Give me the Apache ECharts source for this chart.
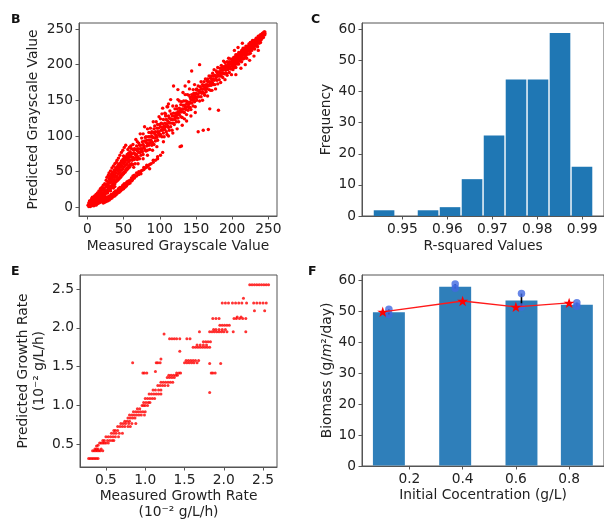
<!DOCTYPE html>
<html><head><meta charset="utf-8">
<script src="https://cdn.jsdelivr.net/npm/echarts@6/dist/echarts.min.js"></script>
<style>html,body{margin:0;padding:0;background:#fff}#c{width:604px;height:522px}</style>
</head><body><div id="c"></div>
<script>
// ---------- Panel B: measured vs predicted grayscale ----------
const bPoints = [
[1,3],[2,1],[2,6],[3,3],[3,9],[4,1],[4,5],[5,3],[5,10],[5,7],[6,2],[6,6],[6,12],[7,4],[7,9],[7,14],[8,3],[8,7],[8,11],[9,6],[9,13],[9,2],[10,8],[10,4],[10,16],[11,10],[11,6],[11,13],[12,3],[12,9],[12,18],[12,12],[13,7],[13,15],[13,11],[14,5],[14,10],[14,20],[14,14],[15,8],[15,17],[15,12],[16,6],[16,11],[16,23],[16,15],[17,9],[17,19],[17,14],[18,7],[18,12],[18,26],[18,17],[19,10],[19,21],[19,15],[20,8],[20,13],[20,28],[20,18],[21,11],[21,24],[21,16],[22,9],[22,14],[22,31],[22,20],[23,12],[23,26],[23,17],[24,10],[24,15],[24,33],[24,22],[25,13],[25,28],[25,19],
[3.5,6],[6.5,9],[9.5,10],[11.5,15],[13.5,18],[15.5,20],[17.5,22],[19.5,24],[21.5,27],[23.5,24],
[26,23],[26,31],[26,38],[27,24],[27,29],[27,42],[28,22],[28,33],[28,36],[29,27],[29,31],[29,45],[30,25],[30,36],[30,40],[30,48],[31,28],[31,34],[31,43],[32,26],[32,38],[32,41],[32,51],[33,30],[33,35],[33,46],[34,29],[34,40],[34,44],[34,55],[35,32],[35,37],[35,49],[36,31],[36,43],[36,47],[36,58],[37,35],[37,39],[37,52],[38,33],[38,45],[38,50],[38,61],[39,37],[39,42],[39,55],[40,36],[40,48],[40,53],[40,63],[41,39],[41,44],[41,57],[41,66],[42,38],[42,51],[42,55],[43,41],[43,47],[43,60],[43,69],[44,40],[44,53],[44,58],[45,44],[45,49],[45,62],[45,73],[46,42],[46,56],[46,60],[47,46],[47,52],[47,65],[47,77],[48,45],[48,58],[48,63],[49,48],[49,54],[49,67],[49,80],[50,47],[50,61],[50,65],[50,72],[51,50],[51,57],[51,69],[51,84],[52,49],[52,63],[52,67],[53,53],[53,59],[53,71],[53,87],[54,52],[54,66],[54,70],[55,55],[55,61],[55,74],[56,54],[56,68],[56,72],[56,81],[57,58],[57,64],[57,76],[58,56],[58,70],[58,74],[58,84],[59,60],[59,66],[59,78],[60,59],[60,72],[60,76],[60,86],
[22,6],[22,10],[23,8],[24,7],[24,11],[25,9],[26,8],[26,12],[27,10],[27,14],[28,9],[29,11],[29,15],[30,10],[30,14],[31,13],[31,16],[32,12],[33,14],[33,18],[34,13],[34,17],[35,16],[36,15],[36,19],[37,17],[37,21],[38,16],[39,19],[39,23],[40,18],[40,22],[41,21],[42,20],[42,24],[43,22],[43,26],[44,21],[45,24],[45,28],[46,23],[46,27],[47,26],[48,25],[48,29],[49,27],[49,31],[50,26],[51,29],[51,33],[52,28],[52,32],[53,31],[54,30],[54,34],[55,32],[55,36],[57,33],[57,37],[58,35],[59,34],[59,38],[61,37],[61,41],[62,38],[63,40],[63,44],[65,41],[65,45],[66,43],[68,44],[68,48],[70,47],[71,46],[71,50],[73,49],[74,51],[74,47],[76,52],[78,53],[78,56],[80,55],[82,56],[82,59],[84,58],[86,60],[86,54],[88,61],[91,63],[91,66],[94,66],[97,68],[97,71],[101,73],[104,77],
[20,12],[24,16],[28,20],[32,23],[36,27],[38,29],
[61,61],[61,70],[61,82],[62,66],[62,75],[63,60],[63,70],[63,88],[64,69],[64,80],[65,67],[65,76],[65,82],[66,61],[66,74],[67,70],[67,81],[67,95],[68,74],[68,86],[69,67],[69,79],[69,92],[70,71],[70,82],[71,78],[71,77],[71,90],[72,68],[72,87],[73,77],[73,82],[73,103],[74,73],[74,87],[75,80],[75,82],[75,97],[76,78],[76,92],[77,74],[77,88],[77,103],[78,84],[78,86],[79,82],[79,93],[79,113],[80,80],[80,98],[81,79],[81,91],[81,99],[82,86],[82,94],[83,80],[83,89],[83,110],[84,89],[84,99],[85,87],[85,94],[85,105],[86,81],[86,99],[87,90],[87,94],[87,111],[88,94],[88,104],[89,87],[89,100],[89,106],[90,91],[90,98],[91,98],[91,105],[91,120],[92,88],[92,110],[93,97],[93,103],[93,114],[94,93],[94,106],[95,100],[95,101],[95,120],[96,98],[96,111],[97,94],[97,106],[97,116],[98,104],[98,111],[99,102],[99,106],[99,127],[100,100],[100,116],
[64,56],[70,61],[77,68],[83,73],[90,80],[96,85],
[101,102],[101,113],[101,124],[102,108],[102,118],[103,99],[103,112],[103,131],[104,108],[104,117],[105,104],[105,123],[105,112],[106,114],[106,99],[107,109],[107,118],[107,132],[108,113],[108,128],[109,106],[109,123],[109,117],[110,117],[110,102],[111,114],[111,121],[111,141],[112,112],[112,128],[113,119],[113,125],[113,108],[114,118],[114,135],[115,113],[115,124],[115,151],[116,123],[116,131],[117,118],[117,128],[117,108],[118,123],[118,142],[119,118],[119,132],[119,170],[120,128],[120,116],[121,123],[121,138],[121,127],[122,126],[122,132],[123,120],[123,142],[123,130],[124,129],[124,138],[125,125],[125,151],[125,134],[126,132],[126,120],[127,130],[127,139],[127,149],[128,136],[128,85],[129,127],[129,144],[129,134],[130,134],[130,86],[130,148],[131,138],[131,126],[132,134],[132,143],[132,161],[133,138],[133,149],[134,133],[134,143],[134,124],[135,141],[135,158],[136,137],[136,149],[136,140],[137,145],[137,130],[138,141],[138,148],[138,158],[139,146],[139,136],[140,144],[140,157],[140,140],[141,147],[141,166],[142,140],[142,154],[142,147],[143,151],[143,137],[144,146],[144,191],[144,158],[145,150],[145,155],[146,142],[146,165],[146,153],[147,151],[147,160],[148,148],[148,157],[148,172],[149,155],[149,141],[150,160],[150,153],[150,165],
[105,92],[112,100],[118,104],[124,110],[131,115],[137,121],[143,128],[149,133],
[104,139],[108,131],[112,145],[125,165],[135,170],[140,176],[110,141],
[151,159],[151,150],[151,166],[152,155],[152,164],[153,159],[153,106],[153,170],[154,155],[154,164],[155,162],[155,200],[155,149],[156,161],[156,169],[157,155],[157,166],[157,176],[158,166],[158,160],[159,162],[159,172],[159,150],[160,166],[160,108],[160,170],[161,160],[161,176],[162,167],[162,157],[162,171],[163,165],[163,180],[164,172],[164,162],[164,168],[165,166],[165,177],[166,172],[166,156],[166,180],[167,170],[167,109],[167,176],[168,165],[168,184],[169,176],[169,138],[169,171],[170,174],[170,181],[170,164],[171,171],[171,184],[172,177],[172,164],[172,180],[173,174],[173,188],[174,180],[174,172],[174,184],[175,178],[175,193],[176,185],[176,172],[177,179],[177,184],[177,166],[178,182],[178,191],[179,178],[179,189],[180,186],[180,173],[180,196],[181,184],[181,136],[182,190],[182,179],[183,184],[183,195],[183,188],[184,188],[184,175],[185,192],[185,184],[185,199],[186,188],[186,196],[187,192],[187,182],[188,188],[188,197],[188,205],[189,195],[189,187],[190,194],[190,203],[190,179],[191,192],[191,199],[192,197],[192,188],[193,196],[193,204],[193,185],[194,201],[194,193],[195,198],[195,209],[196,195],[196,204],[196,189],[197,201],[197,197],[198,194],[198,208],[199,201],[199,186],[199,204],[200,198],[200,207],
[201,202],[201,196],[201,207],[201,193],[202,206],[202,200],[202,210],[203,203],[203,196],[203,208],[203,205],[204,207],[204,200],[204,211],[205,204],[205,206],[205,196],[205,214],[206,211],[206,203],[206,208],[207,205],[207,214],[207,201],[207,210],[208,209],[208,212],[208,203],[209,209],[209,217],[209,201],[209,212],[210,215],[210,207],[210,210],[211,213],[211,205],[211,217],[211,210],[212,216],[212,208],[212,213],[213,211],[213,220],[213,204],[213,216],[214,215],[214,219],[214,209],[215,214],[215,223],[215,208],[215,217],[216,220],[216,213],[216,217],[217,217],[217,223],[217,209],[217,220],[218,223],[218,213],[218,217],[219,220],[219,226],[219,213],[219,223],[220,221],[220,216],[220,209],[221,219],[221,226],[221,223],[221,215],[222,225],[222,219],[222,222],[223,222],[223,229],[223,215],[223,225],[224,228],[224,219],[224,224],[225,223],[225,228],[225,216],[225,231],[226,227],[226,222],[226,231],[227,226],[227,231],[227,220],[227,229],[228,228],[228,225],[228,234],[229,232],[229,223],[229,228],[229,230],[230,231],[230,225],[230,234],[231,228],[231,234],[231,222],[231,231],[232,231],[232,234],[232,226],[233,231],[233,237],[233,229],[233,234],[234,234],[234,227],[234,237],[235,232],[235,237],[235,234],[235,225],[236,237],[236,231],[236,240],[237,235],[237,237],[237,230],[237,240],[238,237],[238,240],[238,234],[239,236],[239,242],[239,239],[239,231],[240,241],[240,235],[240,239],[241,239],[241,243],[241,237],[241,241],[242,242],[242,239],[242,244],[243,242],[243,238],[243,244],[244,244],[244,242],[244,246],[245,244],[245,242],[245,246],
[205,186],[212,195],[218,200],[224,206],[230,212],[236,220],[208,224],[214,230],[203,220]
];
const bTicks = [0, 50, 100, 150, 200, 250];

// ---------- Panel C: histogram of R-squared ----------
const cBinEdges = [0.94345, 0.94835, 0.95324, 0.95814, 0.96303, 0.96793, 0.97282, 0.97772, 0.98261, 0.98751, 0.99240];
const cCounts = [2, 0, 2, 3, 12, 26, 44, 44, 59, 16];
const cXTicks = [0.95, 0.96, 0.97, 0.98, 0.99];
const cYTicks = [0, 10, 20, 30, 40, 50, 60];

// ---------- Panel E: measured vs predicted growth rate ----------
const ePoints = [
[0.28,0.32],[0.30,0.32],[0.32,0.32],[0.34,0.32],[0.36,0.32],[0.38,0.32],[0.40,0.32],
[0.33,0.42],[0.35,0.42],[0.37,0.42],[0.39,0.42],[0.41,0.42],[0.43,0.42],[0.46,0.42],
[0.36,0.44],[0.38,0.44],[0.40,0.44],[0.44,0.44],[0.38,0.48],[0.40,0.49],
[0.42,0.52],[0.44,0.52],[0.46,0.52],[0.48,0.52],[0.50,0.52],[0.53,0.52],
[0.46,0.55],[0.48,0.55],[0.52,0.55],[0.55,0.55],[0.58,0.55],[0.60,0.55],
[0.50,0.60],[0.53,0.60],[0.56,0.60],[0.59,0.60],[0.62,0.60],[0.66,0.60],
[0.57,0.645],[0.60,0.645],[0.63,0.645],[0.67,0.645],[0.71,0.645],
[0.60,0.68],[0.62,0.68],[0.65,0.68],
[0.65,0.73],[0.68,0.73],[0.71,0.73],[0.74,0.73],[0.78,0.73],[0.81,0.73],
[0.69,0.77],[0.72,0.77],[0.75,0.77],[0.79,0.77],[0.83,0.77],[0.88,0.77],
[0.74,0.80],[0.77,0.80],[0.80,0.80],
[0.78,0.84],[0.81,0.84],[0.84,0.84],[0.87,0.84],
[0.80,0.88],[0.83,0.88],[0.86,0.88],[0.89,0.88],[0.92,0.88],[0.95,0.88],[0.99,0.88],
[0.85,0.92],[0.88,0.92],[0.91,0.92],[0.94,0.92],[0.97,0.92],[1.00,0.92],
[0.90,0.96],[0.93,0.96],
[0.96,1.00],[0.98,1.00],[1.00,1.00],[1.03,1.00],
[0.98,1.04],[1.01,1.04],[1.04,1.04],[1.06,1.04],
[1.00,1.09],[1.03,1.09],[1.06,1.09],[1.09,1.09],[1.12,1.09],
[1.05,1.15],[1.08,1.15],[1.11,1.15],[1.14,1.15],[1.17,1.15],[1.20,1.15],
[1.10,1.20],[1.13,1.20],[1.17,1.20],[1.20,1.20],
[1.16,1.26],[1.19,1.26],[1.22,1.26],[1.25,1.26],[1.29,1.26],
[1.20,1.30],[1.23,1.30],[1.26,1.30],[1.29,1.30],[1.32,1.30],[1.35,1.30],
[1.28,1.36],[1.31,1.36],[1.34,1.36],[1.37,1.36],
[1.30,1.39],[1.33,1.39],[1.36,1.39],[1.39,1.39],[1.41,1.39],
[0.97,1.42],[0.99,1.42],[1.02,1.42],[1.40,1.42],[1.43,1.42],[1.45,1.42],[1.84,1.42],[1.86,1.42],[1.89,1.42],
[1.13,1.44],
[0.84,1.55],[1.14,1.55],[1.16,1.55],[1.19,1.55],[1.50,1.55],[1.53,1.55],[1.56,1.55],[1.59,1.55],[1.62,1.55],[1.66,1.55],[1.82,1.54],[1.96,1.54],
[1.20,1.60],[1.52,1.58],[1.55,1.58],[1.58,1.58],[1.61,1.58],[1.64,1.58],[1.68,1.58],
[1.44,1.70],
[1.61,1.75],[1.64,1.75],[1.67,1.75],[1.70,1.75],[1.73,1.75],[1.76,1.75],[1.79,1.75],[1.82,1.75],
[1.66,1.78],[1.70,1.78],[1.74,1.78],[1.78,1.78],
[1.74,1.82],[1.77,1.82],[1.80,1.82],[1.83,1.82],
[1.31,1.86],[1.34,1.86],[1.37,1.86],[1.40,1.86],[1.44,1.86],[1.53,1.86],[1.57,1.86],
[1.82,1.17],[1.24,1.92],
[1.69,1.95],[1.82,1.95],[1.85,1.95],[1.88,1.95],[1.91,1.95],[1.94,1.95],[1.97,1.95],[2.00,1.95],[2.04,1.95],[2.12,1.95],[2.28,1.95],
[1.87,1.98],[1.90,1.98],[1.94,1.98],[1.98,1.98],[2.02,1.98],
[1.95,2.035],[1.98,2.035],[2.01,2.035],[2.04,2.035],[2.07,2.035],
[1.86,2.12],[1.90,2.12],[1.94,2.12],[2.13,2.12],[2.16,2.12],[2.20,2.12],[2.24,2.12],[2.28,2.12],
[2.17,2.14],[2.22,2.14],
[2.39,2.22],[2.52,2.22],
[1.98,2.32],[2.02,2.32],[2.06,2.32],[2.11,2.32],[2.15,2.32],[2.19,2.32],[2.23,2.32],[2.29,2.32],[2.38,2.32],[2.42,2.32],[2.46,2.32],[2.50,2.32],[2.54,2.32],
[2.25,2.38],
[2.33,2.556],[2.36,2.556],[2.39,2.556],[2.42,2.556],[2.45,2.556],[2.48,2.556],[2.51,2.556],[2.54,2.556],[2.57,2.556]
];
const eTicks = [0.5, 1.0, 1.5, 2.0, 2.5];

// ---------- Panel F: biomass vs initial concentration ----------
const fBarX = [0.123, 0.372, 0.621, 0.829];
const fBarH = [49.7, 57.9, 53.5, 52.1];
const fDots = [[0.123, 50.6], [0.123, 48.9], [0.372, 58.8], [0.372, 57.4], [0.621, 55.7], [0.621, 51.4], [0.829, 52.7], [0.829, 51.6]];
const fErrLow = [48.9, 57.4, 51.4, 51.6];
const fErrHigh = [50.6, 58.8, 55.7, 52.7];
const fStarX = [0.1, 0.4, 0.6, 0.8];
const fStarY = [49.8, 53.3, 51.4, 52.7];
const fXTicks = [0.2, 0.4, 0.6, 0.8];
const fYTicks = [0, 10, 20, 30, 40, 50, 60];

// ---------- chart ----------
const FONT = 'DejaVu Sans';
const TXT = { color: '#222', fontSize: 13.8, fontFamily: FONT };
const AX = '#555';

function mkAxis(gi, min, max, ticks, fmt, name, gap, extra) {
  return Object.assign({
    gridIndex: gi, type: 'value', min: min, max: max,
    axisLine: { show: true, onZero: false, lineStyle: { color: AX, width: 1 } },
    axisTick: { show: true, length: 3.5, lineStyle: { color: AX, width: 1 }, customValues: ticks },
    axisLabel: Object.assign({ margin: 6, customValues: ticks, formatter: fmt }, TXT),
    splitLine: { show: false },
    name: name, nameLocation: 'middle', nameGap: gap,
    nameTextStyle: Object.assign({ lineHeight: 16.5 }, TXT)
  }, extra || {});
}
const f0 = v => String(Math.round(v));
const f1 = v => v.toFixed(1);
const f2 = v => v.toFixed(2);

const grids = [
  { left: 79, top: 23, width: 198, height: 193 },
  { left: 362, top: 23, width: 247, height: 193 },
  { left: 80, top: 275, width: 197, height: 192 },
  { left: 362, top: 275, width: 247, height: 191 }
].map(g => Object.assign({ show: true, borderColor: AX, borderWidth: 1, backgroundColor: 'transparent', containLabel: false }, g));

const superm = '\u207B\u00B2';
const option = {
  animation: false,
  grid: grids,
  xAxis: [
    mkAxis(0, -11.5, 261.8, bTicks, f0, 'Measured Grayscale Value', 22),
    mkAxis(1, 0.94099, 0.99485, cXTicks, f2, 'R-squared Values', 22),
    mkAxis(2, 0.17, 2.677, eTicks, f1, 'Measured Growth Rate\n(10' + superm + ' g/L/h)', 21),
    mkAxis(3, 0.022, 0.931, fXTicks, f1, 'Initial Cocentration (g/L)', 21)
  ],
  yAxis: [
    mkAxis(0, -12.2, 258.4, bTicks, f0, 'Predicted Grayscale Value', 37),
    mkAxis(1, 0, 62.03, cYTicks, f0, 'Frequency', 27),
    mkAxis(2, 0.21, 2.68, eTicks, f1, 'Predicted Growth Rate\n(10' + superm + ' g/L/h)', 30),
    mkAxis(3, 0, 61.7, fYTicks, f0, '{a|Biomass (g/}{i|m}{a|\u00B2/day)}', 27, {
      nameTextStyle: { rich: { a: Object.assign({}, TXT), i: Object.assign({ fontStyle: 'italic' }, TXT) } }
    })
  ],
  graphic: [
    { type: 'text', left: 11, top: 13, style: { text: 'B', font: 'bold 12.5px "DejaVu Sans"', fill: '#111' } },
    { type: 'text', left: 311, top: 13, style: { text: 'C', font: 'bold 12.5px "DejaVu Sans"', fill: '#111' } },
    { type: 'text', left: 11, top: 265, style: { text: 'E', font: 'bold 12.5px "DejaVu Sans"', fill: '#111' } },
    { type: 'text', left: 308, top: 265, style: { text: 'F', font: 'bold 12.5px "DejaVu Sans"', fill: '#111' } }
  ],
  series: [
    { type: 'scatter', xAxisIndex: 0, yAxisIndex: 0, data: bPoints, symbolSize: 3.4,
      itemStyle: { color: '#ff0000', opacity: 1 } },
    { type: 'custom', xAxisIndex: 1, yAxisIndex: 1,
      data: cCounts.map((c, i) => [cBinEdges[i], cBinEdges[i + 1], c]),
      encode: { x: [0, 1], y: 2 },
      renderItem: (params, api) => {
        const h = api.value(2);
        if (!h) return null;
        const p0 = api.coord([api.value(0), h]);
        const p1 = api.coord([api.value(1), 0]);
        return { type: 'rect', shape: { x: p0[0] + 0.7, y: p0[1] + 0.5, width: p1[0] - p0[0] - 1.4, height: p1[1] - p0[1] - 0.5 },
          style: { fill: '#1f77b4' } };
      } },
    { type: 'scatter', xAxisIndex: 2, yAxisIndex: 2, data: ePoints, symbolSize: 3,
      itemStyle: { color: '#ff0000' } },
    { type: 'custom', xAxisIndex: 3, yAxisIndex: 3,
      data: fBarX.map((x, i) => [x, fBarH[i]]),
      encode: { x: 0, y: 1 },
      renderItem: (params, api) => {
        const x = api.value(0), h = api.value(1);
        const p0 = api.coord([x - 0.06, h]);
        const p1 = api.coord([x + 0.06, 0]);
        return { type: 'rect', shape: { x: p0[0], y: p0[1], width: p1[0] - p0[0], height: p1[1] - p0[1] - 0.5 },
          style: { fill: '#2f7fba' } };
      } },
    { type: 'custom', xAxisIndex: 3, yAxisIndex: 3, z: 3,
      data: fBarX.map((x, i) => [x, fErrLow[i], fErrHigh[i]]),
      encode: { x: 0, y: [1, 2] },
      renderItem: (params, api) => {
        const a = api.coord([api.value(0), api.value(1)]);
        const b = api.coord([api.value(0), api.value(2)]);
        return { type: 'line', shape: { x1: a[0], y1: a[1], x2: b[0], y2: b[1] }, style: { stroke: '#000', lineWidth: 1.6 } };
      } },
    { type: 'scatter', xAxisIndex: 3, yAxisIndex: 3, z: 4, data: fDots, symbolSize: 7.5,
      itemStyle: { color: '#4169e1' } },
    { type: 'line', xAxisIndex: 3, yAxisIndex: 3, z: 5,
      data: fStarX.map((x, i) => [x, fStarY[i]]),
      symbol: 'path://M50,0 L61.8,35.1 L98.1,35.1 L68.8,56.7 L79.4,91.3 L50,70 L20.6,91.3 L31.2,56.7 L1.9,35.1 L38.2,35.1 Z',
      symbolSize: 11, symbolKeepAspect: true, showSymbol: true,
      lineStyle: { color: '#ff1a1a', width: 1.3 },
      itemStyle: { color: '#ff0000' } }
  ]
};
const chart = echarts.init(document.getElementById('c'), null, { renderer: 'canvas' });
chart.setOption(option);
</script></body></html>
